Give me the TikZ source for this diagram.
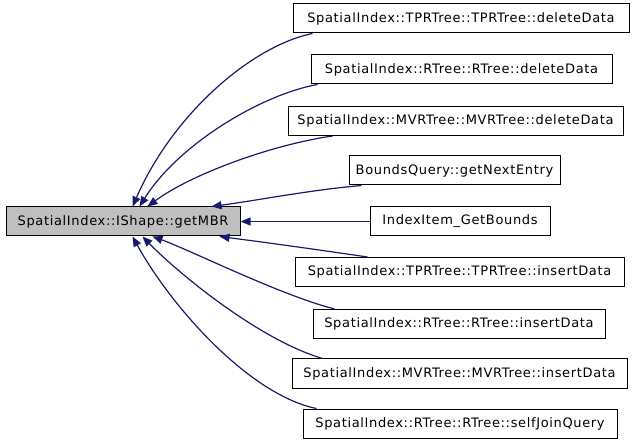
\documentclass[tikz,border=0pt]{standalone}
\usepackage{fontspec}
\setmainfont{DejaVu Sans}
\newfontfamily\boxfont[LetterSpace=5]{DejaVu Sans}
\usetikzlibrary{arrows.meta}
\definecolor{edgeblue}{RGB}{25,25,112}
\definecolor{selgray}{RGB}{191,191,191}
\begin{document}
\begin{tikzpicture}[x=1pt,y=-1pt,
  box/.style={draw=black,line width=1pt,fill=white,minimum height=29pt,inner sep=0pt,font=\boxfont\fontsize{13}{15}\selectfont},
  sel/.style={box,fill=selgray},
  edge/.style={draw=edgeblue,line width=1.2pt,-{Triangle[length=10pt,width=8pt]}}]
\useasboundingbox (0,0) rectangle (637,443);
\node[sel,minimum width=234pt] (m) at (123,221.5) {SpatialIndex::IShape::getMBR};
\node[box,minimum width=336pt] (b1) at (461,18.5) {SpatialIndex::TPRTree::TPRTree::deleteData};
\node[box,minimum width=301pt] (b2) at (461.5,69.5) {SpatialIndex::RTree::RTree::deleteData};
\node[box,minimum width=335pt] (b3) at (455.5,121) {SpatialIndex::MVRTree::MVRTree::deleteData};
\node[box,minimum width=211pt] (b4) at (454.5,170.5) {BoundsQuery::getNextEntry};
\node[box,minimum width=180pt] (b5) at (460,221.5) {IndexItem\_GetBounds};
\node[box,minimum width=329pt] (b6) at (459.5,272) {SpatialIndex::TPRTree::TPRTree::insertData};
\node[box,minimum width=292pt] (b7) at (459,324) {SpatialIndex::RTree::RTree::insertData};
\node[box,minimum width=335pt] (b8) at (459.5,373.5) {SpatialIndex::MVRTree::MVRTree::insertData};
\node[box,minimum width=314pt] (b9) at (460,423.5) {SpatialIndex::RTree::RTree::selfJoinQuery};
\draw[edge] ([xshift=20pt]b1.south west) .. controls (255,45) and (175,110) .. ([xshift=127pt]m.north west);
\draw[edge] ([xshift=7pt]b2.south west) .. controls (260,95) and (178,145) .. ([xshift=134pt]m.north west);
\draw[edge] ([xshift=45pt]b3.south west) .. controls (270,145) and (190,175) .. ([xshift=142pt]m.north west);
\draw[edge] ([xshift=13pt]b4.south west) .. controls (310,190) and (260,200) .. ([xshift=206pt]m.north west);
\draw[edge] (b5.west) -- (m.east);
\draw[edge] ([xshift=73pt]b6.north west) .. controls (320,250) and (270,243) .. ([xshift=214pt]m.south west);
\draw[edge] ([xshift=22pt]b7.north west) .. controls (280,295) and (190,250) .. ([xshift=147pt]m.south west);
\draw[edge] ([xshift=31pt]b8.north west) .. controls (260,340) and (180,275) .. ([xshift=137pt]m.south west);
\draw[edge] ([xshift=14pt]b9.north west) .. controls (250,395) and (172,308) .. ([xshift=127pt]m.south west);
\end{tikzpicture}
\end{document}
